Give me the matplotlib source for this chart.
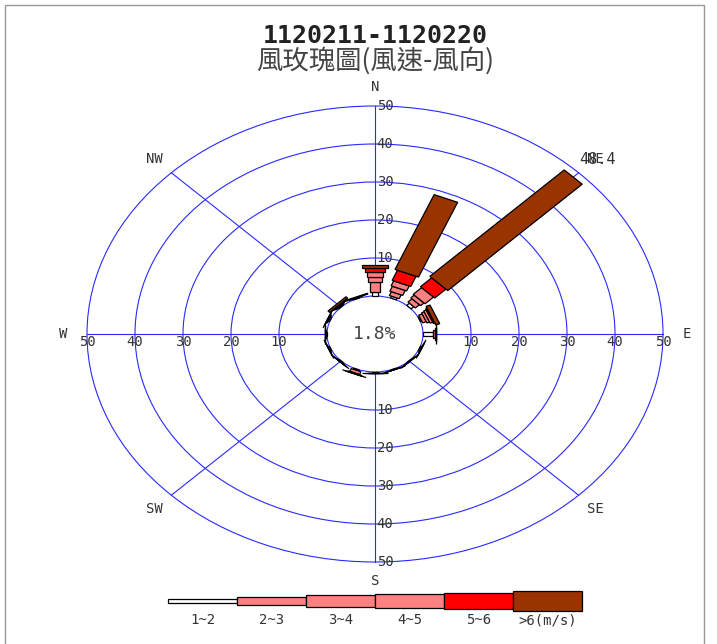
import numpy as np
import matplotlib
matplotlib.use("Agg")
import matplotlib.pyplot as plt
from matplotlib.patches import Ellipse, Polygon, Rectangle

# wind rose data (percent), 16 directions, per speed class
directions = ["N", "NNE", "NE", "ENE", "E", "ESE", "SE", "SSE",
              "S", "SSW", "SW", "WSW", "W", "WNW", "NW", "NNW"]
speed_labels = ["1~2", "2~3", "3~4", "4~5", "5~6", ">6(m/s)"]
colors = ["#ffffff", "#ff8080", "#ff8080", "#ff8080", "#ff0000", "#993300"]

s12 = [1.1, 0.5, 0.8, 0.3, 2.0, 0.3, 0.2, 0.2, 0.2, 0.3, 0.2, 0.3, 0.3, 0.3, 0.2, 0.2]
s23 = [2.7, 1.1, 1.2, 0.8, 0.6, 0.1, 0.0, 0.0, 0.1, 0.8, 0.1, 0.1, 0.1, 0.2, 0.2, 0.1]
s34 = [1.3, 1.4, 1.0, 0.6, 0.1, 0.0, 0.0, 0.0, 0.0, 0.2, 0.0, 0.0, 0.0, 0.1, 0.1, 0.0]
s45 = [1.3, 1.4, 2.5, 0.6, 0.0, 0.0, 0.0, 0.0, 0.0, 0.0, 0.0, 0.0, 0.0, 0.0, 0.1, 0.0]
s56 = [0.9, 2.9, 3.3, 0.3, 0.0, 0.0, 0.0, 0.0, 0.0, 0.0, 0.0, 0.0, 0.0, 0.0, 0.1, 0.0]
s6p = [0.9, 21.3, 39.6, 0.9, 0.0, 0.0, 0.0, 0.0, 0.0, 0.0, 0.0, 0.0, 0.0, 0.0, 0.5, 0.2]
calm = 1.8
max_label = "48.4"
title1 = "1120211-1120220"
title2 = "風玫瑰圖(風速-風向)"

rings = [10, 20, 30, 40, 50]
seg_w = [1.3, 2.2, 2.9, 3.5, 4.2, 5.3]
r0 = 10  # radius of the calm circle
blue = "#2a2aff"
mono = "DejaVu Sans Mono"

fig = plt.figure(figsize=(7.17, 6.44), dpi=100)
ax = fig.add_axes([0, 0, 1, 1])
ax.set_xlim(-375 / 4.8, (717 - 375) / 4.8)
ax.set_ylim(-(644 - 334) / 3.8, 334 / 3.8)
ax.axis("off")

# frame
fig.patches.append(Rectangle((5 / 717, -0.1), 699 / 717, 1.1 - 5 / 644, transform=fig.transFigure,
                             fill=False, edgecolor="#999999", lw=1))

# grid rings and spokes
for v in rings:
    ax.add_patch(Ellipse((0, 0), 2 * (r0 + v), 2 * (r0 + v), fill=False, edgecolor=blue, lw=0.8, zorder=1))
for k in range(8):
    th = np.deg2rad(k * 45)
    ax.plot([r0 * np.sin(th), (r0 + 50) * np.sin(th)], [r0 * np.cos(th), (r0 + 50) * np.cos(th)],
            color=blue, lw=0.8, zorder=1)

# tick labels along the axes
for v in rings:
    for sgn in (1, -1):
        ax.text(2.1, sgn * (r0 + v), str(v), ha="center", va="center", family=mono, fontsize=10, color="#333333", zorder=5)
        ax.text(sgn * (r0 + v), -2.1, str(v), ha="center", va="center", family=mono, fontsize=10, color="#333333", zorder=5)

# direction labels
for k, name in enumerate(["N", "NE", "E", "SE", "S", "SW", "W", "NW"]):
    th = np.deg2rad(k * 45)
    ax.text(65 * np.sin(th), 65 * np.cos(th), name, ha="center", va="center", family=mono, fontsize=10, color="#333333")
ax.text(65 * np.sin(np.pi / 4) + 0.3, 65 * np.cos(np.pi / 4), max_label, ha="center", va="center",
        family=mono, fontsize=11, color="#333333")

# calm circle
ax.add_patch(Ellipse((0, 0), 2 * r0, 2 * r0, facecolor="white", edgecolor=blue, lw=0.8, zorder=2))
ax.text(0, 0, f"{calm}%", ha="center", va="center", family=mono, fontsize=13, color="#444444", zorder=5)

# stacked bars
classes = [s12, s23, s34, s45, s56, s6p]
for i in range(len(directions)):
    th = np.deg2rad(i * 22.5)
    d = np.array([np.sin(th), np.cos(th)])
    n = np.array([np.cos(th), -np.sin(th)])
    base = r0
    for c in range(6):
        top = base + classes[c][i]
        h = seg_w[c] / 2
        pts = [d * base + n * h, d * top + n * h, d * top - n * h, d * base - n * h]
        ax.add_patch(Polygon(pts, closed=True, facecolor=colors[c], edgecolor="black", lw=0.9, zorder=3))
        base = top

# legend
seg_len = 14.37
lx0 = -3 * seg_len
ly = -(601 - 334) / 3.8
for c in range(6):
    x = lx0 + c * seg_len
    ax.add_patch(Rectangle((x, ly - seg_w[c] / 2), seg_len, seg_w[c], facecolor=colors[c],
                           edgecolor="black", lw=0.9, zorder=3))
    ax.text(x + seg_len / 2, -(620 - 334) / 3.8, speed_labels[c], ha="center", va="center",
            family=mono, fontsize=10, color="#333333")

# titles
ax.text(0, (334 - 36) / 3.8, title1, ha="center", va="center", family=mono, fontweight="bold",
        fontsize=18, color="#222222")
ax.text(0, (334 - 61) / 3.8, title2, ha="center", va="center", family=["Noto Sans CJK TC", "DejaVu Sans"],
        fontsize=19, color="#444444")

fig.savefig("out.png", dpi=100)
